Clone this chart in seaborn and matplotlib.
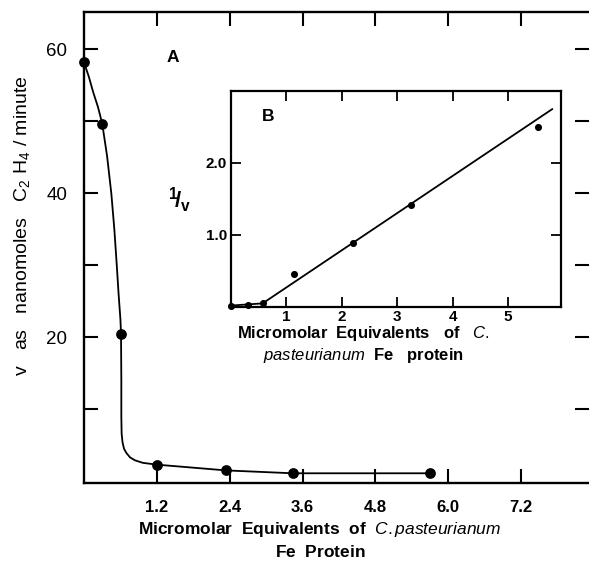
import numpy as np
import pandas as pd
import matplotlib
matplotlib.use("Agg")
import matplotlib.pyplot as plt
import seaborn as sns

fe_a = [0, 0.30, 0.61, 1.20, 2.34, 3.44, 5.70]
v_a = [58.2, 49.7, 20.5, 2.3, 1.5, 1.1, 1.1]

# curva desenhada à mão que passa pelos pontos
curva_x = [0, 0.08, 0.15, 0.23, 0.30, 0.38, 0.45, 0.50, 0.54, 0.57, 0.60, 0.61,
           0.615, 0.615, 0.62, 0.635, 0.66, 0.70, 0.76, 0.84, 0.97, 1.20,
           2.34, 3.44, 5.70]
curva_y = [58.2, 56.2, 54.1, 52.0, 49.7, 45.2, 40.0, 35.0, 30.0, 26.0, 22.5, 20.5,
           14.0, 9.0, 6.6, 5.4, 4.5, 3.9, 3.3, 2.9, 2.55, 2.3,
           1.5, 1.1, 1.1]

# --- dados do gráfico B (1/v vs. equivalentes) ---
fe_b = [0, 0.31, 0.57, 1.13, 2.2, 3.25, 5.54]
inv_v = [0.02, 0.03, 0.05, 0.46, 0.89, 1.42, 2.5]

# reta ajustada no gráfico B
reta_x = [0, 0.57, 5.8]
reta_y = [0.02, 0.05, 2.75]

xticks_a = [1.2, 2.4, 3.6, 4.8, 6.0, 7.2]
xlabels_a = ["1.2", "2.4", "3.6", "4.8", "6.0", "7.2"]
yticks_a = [10, 20, 30, 40, 50, 60]
ylabels_a = ["", "20", "", "40", "", "60"]
xticks_b = [1, 2, 3, 4, 5]
yticks_b = [1.0, 2.0]

sns.set_style("ticks")
plt.rcParams["font.family"] = ["Liberation Sans", "DejaVu Sans"]
plt.rcParams["mathtext.fontset"] = "custom"
plt.rcParams["mathtext.rm"] = "Liberation Sans"
plt.rcParams["mathtext.bf"] = "Liberation Sans:bold"
plt.rcParams["mathtext.it"] = "Liberation Sans:italic"
plt.rcParams["mathtext.default"] = "regular"
for chave in ["text.color", "axes.labelcolor", "xtick.color", "ytick.color", "axes.edgecolor"]:
    plt.rcParams[chave] = "black"

W, H = 589, 564
fig = plt.figure(figsize=(W / 100, H / 100), dpi=100)

# --- gráfico principal A ---
ax = fig.add_axes([84 / W, (H - 483) / H, (W - 84) / W, (483 - 12) / H])
df_a = pd.DataFrame({"fe": fe_a, "v": v_a})
df_curva = pd.DataFrame({"x": curva_x, "y": curva_y})
sns.lineplot(data=df_curva, x="x", y="y", sort=False, estimator=None, errorbar=None,
             color="black", lw=1.3, ax=ax)
sns.scatterplot(data=df_a, x="fe", y="v", color="black", s=60, linewidth=0,
                zorder=5, clip_on=False, ax=ax)

ax.set_xlim(0, 8.32)
ax.set_ylim(-0.25, 65.2)
ax.set_xticks(xticks_a)
ax.set_xticklabels(xlabels_a, fontweight="bold", fontsize=12)
ax.set_yticks(yticks_a)
ax.set_yticklabels(ylabels_a, fontsize=13.5)
ax.tick_params(axis="x", direction="in", length=10, width=1.5, pad=12,
               top=True, bottom=True)
ax.tick_params(axis="y", direction="in", length=10, width=1.5, pad=12,
               left=True, right=True)
for lado in ["left", "bottom", "top"]:
    ax.spines[lado].set_linewidth(1.7)
ax.spines["right"].set_visible(False)
ax.set_xlabel(r"$\mathbf{Micromolar\ \ Equivalents\ \ of}\ \ \mathit{C.pasteurianum}$"
              "\n" r"$\mathbf{Fe\ \ Protein}$",
              fontsize=12.5, x=0.467, labelpad=4, linespacing=1.35)
ax.set_ylabel("")
fig.text(22 / W, 1 - 226 / H, r"v   as   nanomoles   C$_2$ H$_4$ / minute",
         rotation=90, ha="center", va="center", fontsize=14)
fig.text(173 / W, 1 - 57 / H, "A", ha="center", va="center",
         fontsize=12.5, fontweight="bold")

# --- gráfico inserido B ---
axb = fig.add_axes([231 / W, (H - 307) / H, (561 - 231) / W, (307 - 91) / H])
df_b = pd.DataFrame({"fe": fe_b, "inv": inv_v})
df_reta = pd.DataFrame({"x": reta_x, "y": reta_y})
sns.lineplot(data=df_reta, x="x", y="y", sort=False, estimator=None, errorbar=None,
             color="black", lw=1.3, ax=axb)
sns.scatterplot(data=df_b, x="fe", y="inv", color="black", s=26, linewidth=0,
                zorder=5, clip_on=False, ax=axb)
axb.set_xlim(0, 5.955)
axb.set_ylim(0, 3.0)
axb.set_xticks(xticks_b)
axb.set_xticklabels([str(t) for t in xticks_b], fontweight="bold", fontsize=11)
axb.set_yticks(yticks_b)
axb.set_yticklabels(["1.0", "2.0"], fontweight="bold", fontsize=11)
axb.tick_params(direction="in", length=7, width=1.3, top=True, right=True)
axb.tick_params(axis="x", pad=2)
axb.tick_params(axis="y", pad=3)
for lado in axb.spines:
    axb.spines[lado].set_linewidth(1.6)
axb.set_xlabel(r"$\mathbf{Micromolar\ \ Equivalents\ \ \ of}\ \ \ \mathit{C.}$"
               "\n" r"$\mathit{pasteurianum}\ \ \mathbf{Fe\ \ \ protein}$",
               fontsize=12, x=0.40, labelpad=0, linespacing=1.2)
axb.set_ylabel("")
fig.text(180 / W, 1 - 200 / H, r"$^{1}\!/_{v}$", ha="center", va="center",
         fontsize=16, fontweight="bold")
fig.text(268 / W, 1 - 117 / H, "B", ha="center", va="center",
         fontsize=12.5, fontweight="bold")

fig.savefig("out.png", dpi=100)
